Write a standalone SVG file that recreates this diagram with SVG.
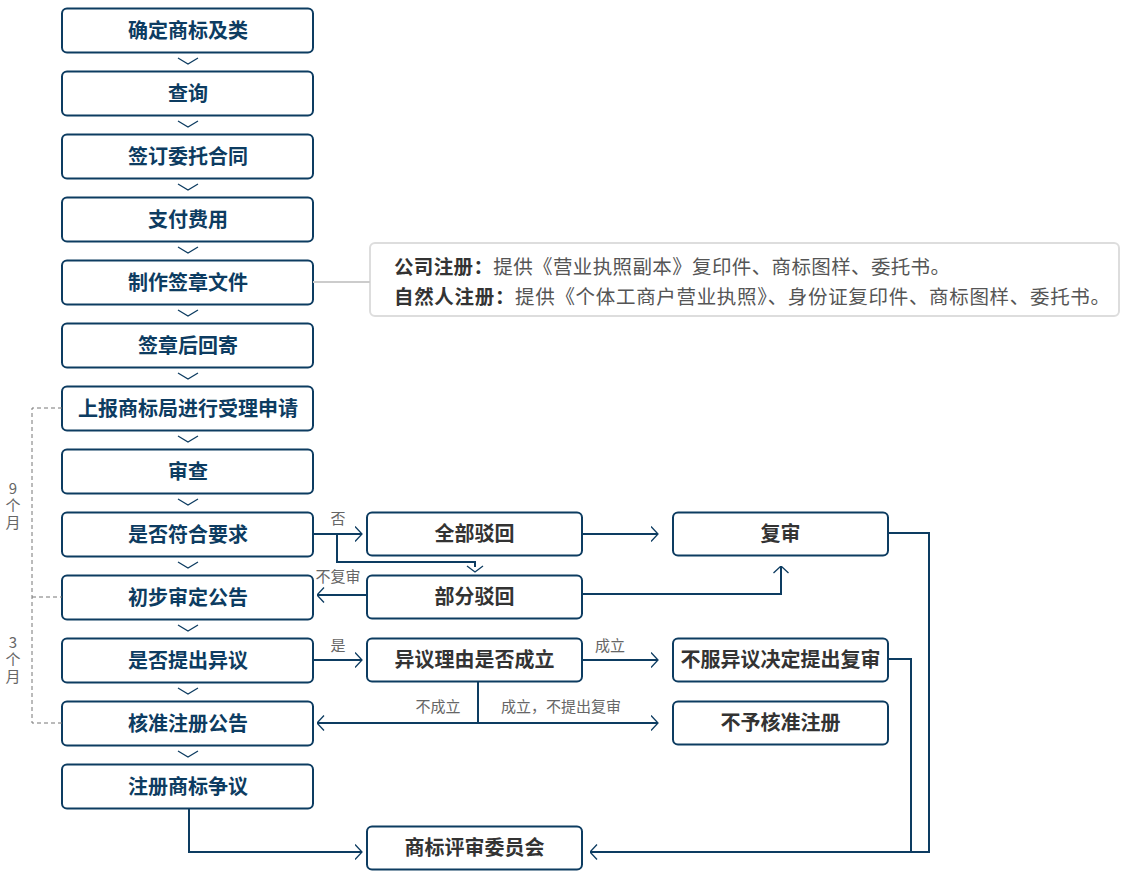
<svg xmlns="http://www.w3.org/2000/svg" width="1126" height="879" viewBox="0 0 1126 879">
<style>
.box{fill:#fff;stroke:#0d3c61;stroke-width:2}
.t{font-family:"Noto Sans CJK SC","Noto Sans",sans-serif;font-size:20px;font-weight:700;text-anchor:middle}
.tl{fill:#0d3c61}
.tr{fill:#333}
.lbl{font-family:"Noto Sans CJK SC","Noto Sans",sans-serif;font-size:15px;fill:#666;text-anchor:middle}
.vlbl{font-family:"Noto Sans CJK SC","Noto Sans",sans-serif;font-size:15px;fill:#666;writing-mode:vertical-rl;text-orientation:upright;letter-spacing:2px}
.conn{fill:none;stroke:#0d3c61;stroke-width:2}
.chev{fill:none;stroke:#0d3c61;stroke-width:1.3}
.dash{fill:none;stroke:#777;stroke-width:1;stroke-dasharray:4 3}
.info{font-family:"Noto Sans CJK SC","Noto Sans",sans-serif;font-size:19.5px;fill:#555}
.infob{font-weight:700;fill:#333}
</style>
<defs>
<marker id="ah" viewBox="0 0 8 16" refX="7.5" refY="8" markerWidth="8" markerHeight="16" markerUnits="userSpaceOnUse" orient="auto">
<path d="M0.5,0.5 L7.5,8 L0.5,15.5" fill="none" stroke="#0d3c61" stroke-width="1.3"/>
</marker>
</defs>

<g id="n1"><rect class="box" x="62" y="8.5" width="251" height="44" rx="5"/><text class="t tl" x="188" y="38">确定商标及类</text></g>
<g id="n2"><rect class="box" x="62" y="71.5" width="251" height="44" rx="5"/><text class="t tl" x="188" y="101">查询</text></g>
<g id="n3"><rect class="box" x="62" y="134.5" width="251" height="44" rx="5"/><text class="t tl" x="188" y="164">签订委托合同</text></g>
<g id="n4"><rect class="box" x="62" y="197.5" width="251" height="44" rx="5"/><text class="t tl" x="188" y="227">支付费用</text></g>
<g id="n5"><rect class="box" x="62" y="260.5" width="251" height="44" rx="5"/><text class="t tl" x="188" y="290">制作签章文件</text></g>
<g id="n6"><rect class="box" x="62" y="323.5" width="251" height="44" rx="5"/><text class="t tl" x="188" y="353">签章后回寄</text></g>
<g id="n7"><rect class="box" x="62" y="386.5" width="251" height="44" rx="5"/><text class="t tl" x="188" y="416">上报商标局进行受理申请</text></g>
<g id="n8"><rect class="box" x="62" y="449.5" width="251" height="44" rx="5"/><text class="t tl" x="188" y="479">审查</text></g>
<g id="n9"><rect class="box" x="62" y="512.5" width="251" height="44" rx="5"/><text class="t tl" x="188" y="542">是否符合要求</text></g>
<g id="n10"><rect class="box" x="62" y="575.5" width="251" height="44" rx="5"/><text class="t tl" x="188" y="605">初步审定公告</text></g>
<g id="n11"><rect class="box" x="62" y="638.5" width="251" height="44" rx="5"/><text class="t tl" x="188" y="668">是否提出异议</text></g>
<g id="n12"><rect class="box" x="62" y="701.5" width="251" height="44" rx="5"/><text class="t tl" x="188" y="731">核准注册公告</text></g>
<g id="n13"><rect class="box" x="62" y="764.5" width="251" height="44" rx="5"/><text class="t tl" x="188" y="794">注册商标争议</text></g>

<g id="m1"><rect class="box" x="367" y="512.5" width="215" height="43" rx="5"/><text class="t tr" x="474.5" y="541">全部驳回</text></g>
<g id="m2"><rect class="box" x="367" y="575.5" width="215" height="43" rx="5"/><text class="t tr" x="474.5" y="604">部分驳回</text></g>
<g id="m3"><rect class="box" x="367" y="638.5" width="215" height="43" rx="5"/><text class="t tr" x="474.5" y="667">异议理由是否成立</text></g>
<g id="m4"><rect class="box" x="367" y="826.5" width="215" height="43" rx="5"/><text class="t tr" x="474.5" y="855">商标评审委员会</text></g>

<g id="r1"><rect class="box" x="673" y="512.5" width="215" height="43" rx="5"/><text class="t tr" x="780.5" y="541">复审</text></g>
<g id="r2"><rect class="box" x="673" y="638.5" width="215" height="43" rx="5"/><text class="t tr" x="780.5" y="667">不服异议决定提出复审</text></g>
<g id="r3"><rect class="box" x="673" y="701.5" width="215" height="43" rx="5"/><text class="t tr" x="780.5" y="730">不予核准注册</text></g>

<g id="note">
<rect x="370" y="243" width="749" height="73" rx="5" fill="#fff" stroke="#ddd" stroke-width="2"/>
<text class="info" x="394" y="274" textLength="556" lengthAdjust="spacing"><tspan class="infob">公司注册：</tspan>提供《营业执照副本》复印件、商标图样、委托书。</text>
<text class="info" x="394" y="304" textLength="716" lengthAdjust="spacing"><tspan class="infob">自然人注册：</tspan>提供《个体工商户营业执照》、身份证复印件、商标图样、委托书。</text>
</g>

<g id="connectors">
<line x1="313" y1="282" x2="370" y2="282" stroke="#ccc" stroke-width="2"/>
<polyline class="chev" points="178,58 188,64 198,58"/>
<polyline class="chev" points="178,121 188,127 198,121"/>
<polyline class="chev" points="178,184 188,190 198,184"/>
<polyline class="chev" points="178,247 188,253 198,247"/>
<polyline class="chev" points="178,310 188,316 198,310"/>
<polyline class="chev" points="178,373 188,379 198,373"/>
<polyline class="chev" points="178,436 188,442 198,436"/>
<polyline class="chev" points="178,499 188,505 198,499"/>
<polyline class="chev" points="178,562 188,568 198,562"/>
<polyline class="chev" points="178,625 188,631 198,625"/>
<polyline class="chev" points="178,688 188,694 198,688"/>
<polyline class="chev" points="178,751 188,757 198,751"/>

<line class="conn" x1="313" y1="534" x2="362" y2="534" marker-end="url(#ah)"/>
<polyline class="conn" points="337,534 337,562 475,562 475,567"/>
<polyline class="chev" points="467,566 475,572 483,566"/>
<line class="conn" x1="582" y1="534" x2="658" y2="534" marker-end="url(#ah)"/>
<line class="conn" x1="367" y1="595" x2="317" y2="595" marker-end="url(#ah)"/>
<polyline class="conn" points="582,594 781,594 781,566" marker-end="url(#ah)"/>
<line class="conn" x1="313" y1="660" x2="362" y2="660" marker-end="url(#ah)"/>
<line class="conn" x1="582" y1="660" x2="658" y2="660" marker-end="url(#ah)"/>
<line class="conn" x1="478" y1="682" x2="478" y2="723"/>
<line class="conn" x1="478" y1="723" x2="317" y2="723" marker-end="url(#ah)"/>
<line class="conn" x1="478" y1="723" x2="658" y2="723" marker-end="url(#ah)"/>
<polyline class="conn" points="189,808 189,852 362,852" marker-end="url(#ah)"/>
<polyline class="conn" points="888,533 929,533 929,852 590,852" marker-end="url(#ah)"/>
<polyline class="conn" points="888,659 911,659 911,852"/>

<polyline class="dash" points="62,408 32,408 32,723 62,723"/>
<line class="dash" x1="32" y1="597" x2="62" y2="597"/>

<text class="lbl" x="338" y="524">否</text>
<text class="lbl" x="338" y="582">不复审</text>
<text class="lbl" x="338" y="651">是</text>
<text class="lbl" x="610" y="651">成立</text>
<text class="lbl" x="438" y="712">不成立</text>
<text class="lbl" x="561" y="712">成立，不提出复审</text>
<text class="vlbl" x="13" y="481">9个月</text>
<text class="vlbl" x="13" y="635">3个月</text>
</g>
</svg>
